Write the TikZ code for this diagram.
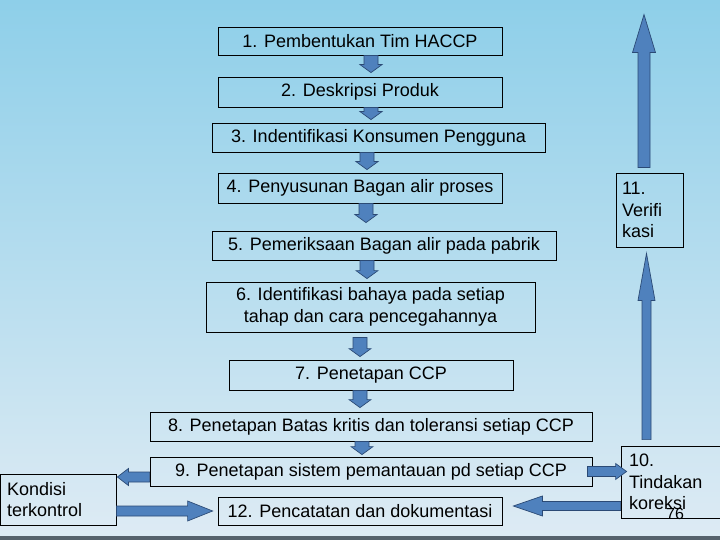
\documentclass[tikz,border=0pt]{standalone}
\usepackage{fontspec}
\setmainfont{Liberation Sans}
\usetikzlibrary{calc}
\definecolor{bgtop}{HTML}{8ECFE9}
\definecolor{bgbot}{HTML}{DEEBF4}
\definecolor{arrfill}{HTML}{4F81BD}
\definecolor{arrline}{HTML}{2B4A75}
\definecolor{stripcol}{HTML}{56626C}
\tikzset{
  box/.style={draw=black, line width=0.8pt, inner sep=0pt, text=black,
              font=\fontsize{18}{21.6}\selectfont},
  barrow/.style={fill=arrfill, draw=arrline, line width=0.7pt, line join=miter},
}
% #1 from, #2 tip, #3 shaft half width, #4 head half width, #5 head length
\newcommand\blockarrow[5]{%
  \coordinate (ba-b) at ($(#2)!#5!(#1)$);
  \draw[barrow] ($(#1)!#3!90:(#2)$) -- ($(ba-b)!#3!-90:(#1)$) -- ($(ba-b)!#4!-90:(#1)$)
     -- (#2) -- ($(ba-b)!#4!90:(#1)$) -- ($(ba-b)!#3!90:(#1)$) -- ($(#1)!#3!-90:(#2)$) -- cycle;}
\newcommand\smallarrow[2]{\blockarrow{#1}{#2}{7pt}{11pt}{8pt}}
\begin{document}
\begin{tikzpicture}[x=1pt, y=-1pt]
\useasboundingbox (0,0) rectangle (720,540);
\shade[top color=bgtop, bottom color=bgbot] (0,0) rectangle (720,540);
\fill[stripcol] (0,536) rectangle (720,540);

% boxes
\node[box, minimum width=284pt, minimum height=28pt] (b1) at (360,41) {1. Pembentukan Tim HACCP};
\node[box, minimum width=284pt, minimum height=30pt] (b2) at (360,92) {2. Deskripsi Produk};
\node[box, minimum width=333pt, minimum height=29pt] (b3) at (378.5,137.5) {3. Indentifikasi Konsumen Pengguna};
\node[box, minimum width=284pt, minimum height=30pt] (b4) at (360,188) {4. Penyusunan Bagan alir proses};
\node[box, minimum width=344pt, minimum height=29pt] (b5) at (384,245.5) {5. Pemeriksaan Bagan alir pada pabrik};
\node[box, minimum width=329pt, minimum height=50pt, align=center] (b6) at (370.5,307) {6. Identifikasi bahaya pada setiap\\tahap dan cara pencegahannya};
\node[box, minimum width=284pt, minimum height=30pt] (b7) at (371,375) {7. Penetapan CCP};
\node[box, minimum width=442pt, minimum height=29pt] (b8) at (371,426.5) {8. Penetapan Batas kritis dan toleransi setiap CCP};
\node[box, minimum width=442pt, minimum height=29pt] (b9) at (371,471.5) {9. Penetapan sistem pemantauan pd setiap CCP};
\node[box, minimum width=284pt, minimum height=28pt] (b12) at (360,511) {12. Pencatatan dan dokumentasi};
\node[box, minimum width=116pt, minimum height=51pt, align=left, text width=102pt, inner xsep=7pt] (bK) at (58,499.5) {Kondisi\\terkontrol};
\node[box, minimum width=104pt, minimum height=72pt, align=left, text width=88pt, inner xsep=8pt] (b10) at (673,482) {10.\\Tindakan\\koreksi};
\node[box, minimum width=67pt, minimum height=74pt, align=left, text width=55pt, inner xsep=6pt] (b11) at (649.5,210) {11.\\Verifi\\kasi};
\node[font=\fontsize{16}{18}\selectfont, inner sep=0pt] (pg) at (675,514) {76};

% small downward arrows
\coordinate (a12s) at ($(b1.south)+(11,0)$);   \coordinate (a12e) at ($(b2.north)+(11,-4)$);
\coordinate (a23s) at ($(b2.south)+(11,0)$);   \coordinate (a23e) at ($(b3.north)+(-7.5,-3)$);
\coordinate (a34s) at ($(b3.south)+(-11.5,0)$);\coordinate (a34e) at ($(b4.north)+(7,-3)$);
\coordinate (a45s) at ($(b4.south)+(6,0)$);    \coordinate (a45e) at ($(b5.north)+(-18,-8)$);
\coordinate (a56s) at ($(b5.south)+(-17,0)$);  \coordinate (a56e) at ($(b6.north)+(-3.5,-3)$);
\coordinate (a67s) at ($(b6.south)+(-10.5,5)$);\coordinate (a67e) at ($(b7.north)+(-11,-3)$);
\coordinate (a78s) at ($(b7.south)+(-11,0)$);  \coordinate (a78e) at ($(b8.north)+(-11,-4)$);
\coordinate (a89s) at ($(b8.south)+(-9,0)$);   \coordinate (a89e) at ($(b9.north)+(-9,-2)$);
\smallarrow{a12s}{a12e}
\smallarrow{a23s}{a23e}
\smallarrow{a34s}{a34e}
\smallarrow{a45s}{a45e}
\smallarrow{a56s}{a56e}
\smallarrow{a67s}{a67e}
\smallarrow{a78s}{a78e}
\smallarrow{a89s}{a89e}

% side arrows
\coordinate (a9Ks) at ($(b9.west)+(0,5.5)$);
\coordinate (a9Ke) at ($(bK.east |- a9Ks)+(1,0)$);
\blockarrow{a9Ks}{a9Ke}{5pt}{8.5pt}{11pt}

\coordinate (aK12s) at (bK.east |- b12.west);
\coordinate (aK12e) at ($(b12.west)+(-5,0)$);
\blockarrow{aK12s}{aK12e}{5pt}{10pt}{25pt}

\coordinate (a910s) at ($(b9.east)+(-5,0)$);
\coordinate (a910e) at ($(b10.west |- a910s)+(6,0)$);
\blockarrow{a910s}{a910e}{5pt}{8pt}{11pt}

\coordinate (a1012s) at ($(b10.west)+(0,24)$);
\coordinate (a1012e) at ($(b12.east |- a1012s)+(11,0)$);
\blockarrow{a1012s}{a1012e}{4.5pt}{10pt}{29pt}

\coordinate (a1011s) at ($(b11.south |- b10.north)+(-3,-6)$);
\coordinate (a1011e) at ($(b11.south)+(-3,6)$);
\blockarrow{a1011s}{a1011e}{4.5pt}{8.5pt}{47pt}

\coordinate (a11s) at ($(b11.north)+(-5.5,-5)$);
\coordinate (a11e) at ($(b11.north)+(-5.5,-158)$);
\blockarrow{a11s}{a11e}{6pt}{11.5pt}{38pt}
\end{tikzpicture}
\end{document}
